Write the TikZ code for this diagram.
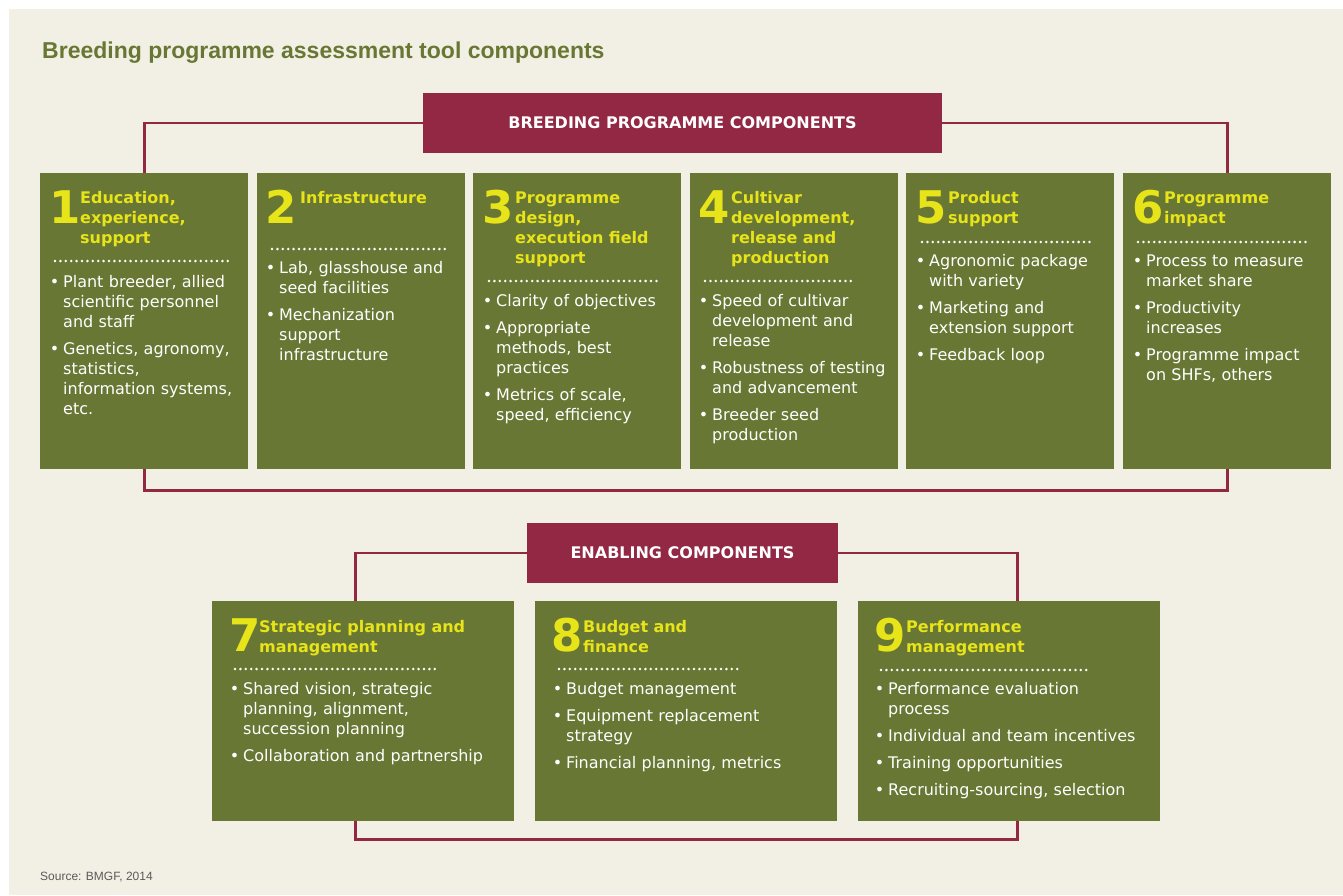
\documentclass[tikz,border=0pt]{standalone}
\usepackage{fontspec}
\setmainfont{DejaVu Sans}
\newfontfamily\titlefont{Liberation Sans}
\usetikzlibrary{calc,positioning}
\definecolor{bpbeige}{RGB}{242,239,228}
\definecolor{bpolive}{RGB}{104,119,51}
\definecolor{bpwine}{RGB}{146,40,68}
\definecolor{bpyellow}{RGB}{232,228,26}
\definecolor{bpgrey}{RGB}{90,90,90}
\newcommand{\bpt}{\leavevmode\llap{\textbullet\hspace{4pt}}}
\tikzset{
    link/.style={draw=bpwine, line width=2.8pt},
    comp/.style={fill=bpolive, anchor=north west, inner sep=0pt, minimum width=208pt, minimum height=296pt},
    enab/.style={comp, minimum width=302pt, minimum height=220pt},
    hdr/.style={fill=bpwine, text=white, minimum height=60pt, inner sep=0pt, font=\fontsize{16}{20}\selectfont\bfseries},
    num/.style={anchor=base west, inner sep=0pt, text=bpyellow, font=\fontsize{45}{45}\selectfont\bfseries},
    head/.style={anchor=base west, inner sep=0pt, text=bpyellow, align=left, text width=260pt, font=\fontsize{16}{20}\selectfont\bfseries},
    items/.style={anchor=base west, inner sep=0pt, text=white, align=left, text width=280pt, font=\fontsize{16}{20}\selectfont},
    dots/.style={white, line width=2.8pt, line cap=round, dash pattern=on 0pt off 5.4pt}
}
\begin{document}
\begin{tikzpicture}[x=1pt, y=-1pt]
    \useasboundingbox (0,0) rectangle (1343,895);
    \fill[bpbeige] (9,9) rectangle (1343,895);

    % Title and source
    \node[anchor=base west, inner sep=0pt, text=bpolive, font=\titlefont\fontsize{23}{23}\selectfont\bfseries] (title) at (42,58) {Breeding programme assessment tool components};
    \node[anchor=base west, inner sep=0pt, text=bpgrey, font=\titlefont\fontsize{12}{12}\selectfont] (src) at (40,880) {Source: BMGF, 2014};

    % Headers
    \node[hdr, minimum width=519pt] (bpc) at (682.5,123) {BREEDING PROGRAMME COMPONENTS};
    \node[hdr, minimum width=311pt] (ec) at (682.5,553) {ENABLING COMPONENTS};

    % Breeding programme components
    \node[comp] (b1) at (40,173) {};
    \node[comp] (b2) at (257,173) {};
    \node[comp] (b3) at (473,173) {};
    \node[comp] (b4) at (690,173) {};
    \node[comp] (b5) at (906,173) {};
    \node[comp] (b6) at (1123,173) {};

    % Enabling components
    \node[enab] (b7) at (212,601) {};
    \node[enab] (b8) at (535,601) {};
    \node[enab] (b9) at (858,601) {};

    % Links
    \draw[link] (b1.north) |- (bpc.west);
    \draw[link] (bpc.east) -| (b6.north);
    \draw[link] (b1.south) -- ++(0,21) -| (b6.south);
    \draw[link] ($(b7.north)+(-8,0)$) |- (ec.west);
    \draw[link] (ec.east) -| ($(b9.north)+(8,0)$);
    \draw[link] ($(b7.south)+(-8,0)$) -- ++(0,18) -| ($(b9.south)+(8,0)$);

    % 1
    \node[num] (n1) at (49,223) {1};
    \node[head] (h1) at (80,203) {Education,\\ experience,\\ support};
    \draw[dots] (55,261) -- (228,261);
    \node[items] (i1) at (63,287) {\bpt Plant breeder, allied\\ scientific personnel\\ and staff\\[7pt]
        \bpt Genetics, agronomy,\\ statistics,\\ information systems,\\ etc.};

    % 2
    \node[num] (n2) at (265,223) {2};
    \node[head] (h2) at (300,203) {Infrastructure};
    \draw[dots] (272,249) -- (448,249);
    \node[items] (i2) at (279,273) {\bpt Lab, glasshouse and\\ seed facilities\\[7pt]
        \bpt Mechanization\\ support\\ infrastructure};

    % 3
    \node[num] (n3) at (482,223) {3};
    \node[head] (h3) at (515,203) {Programme\\ design,\\ execution field\\ support};
    \draw[dots] (489,281) -- (658,281);
    \node[items] (i3) at (496,306) {\bpt Clarity of objectives\\[7pt]
        \bpt Appropriate\\ methods, best\\ practices\\[7pt]
        \bpt Metrics of scale,\\ speed, efficiency};

    % 4
    \node[num] (n4) at (698,223) {4};
    \node[head] (h4) at (731,203) {Cultivar\\ development,\\ release and\\ production};
    \draw[dots] (705,281) -- (852,281);
    \node[items] (i4) at (712,306) {\bpt Speed of cultivar\\ development and\\ release\\[7pt]
        \bpt Robustness of testing\\ and advancement\\[7pt]
        \bpt Breeder seed\\ production};

    % 5
    \node[num] (n5) at (915,223) {5};
    \node[head] (h5) at (948,203) {Product\\ support};
    \draw[dots] (922,242) -- (1093,242);
    \node[items] (i5) at (929,266) {\bpt Agronomic package\\ with variety\\[7pt]
        \bpt Marketing and\\ extension support\\[7pt]
        \bpt Feedback loop};

    % 6
    \node[num] (n6) at (1132,223) {6};
    \node[head] (h6) at (1164,203) {Programme\\ impact};
    \draw[dots] (1138,242) -- (1309,242);
    \node[items] (i6) at (1146,266) {\bpt Process to measure\\ market share\\[7pt]
        \bpt Productivity\\ increases\\[7pt]
        \bpt Programme impact\\ on SHFs, others};

    % 7
    \node[num] (n7) at (229,651) {7};
    \node[head] (h7) at (259,632) {Strategic planning and\\ management};
    \draw[dots] (235,669) -- (435,669);
    \node[items] (i7) at (243,694) {\bpt Shared vision, strategic\\ planning, alignment,\\ succession planning\\[7pt]
        \bpt Collaboration and partnership};

    % 8
    \node[num] (n8) at (551,651) {8};
    \node[head] (h8) at (583,632) {Budget and\\ finance};
    \draw[dots] (559,669) -- (741,669);
    \node[items] (i8) at (566,694) {\bpt Budget management\\[7pt]
        \bpt Equipment replacement\\ strategy\\[7pt]
        \bpt Financial planning, metrics};

    % 9
    \node[num] (n9) at (874,651) {9};
    \node[head] (h9) at (906,632) {Performance\\ management};
    \draw[dots] (881,670) -- (1087,670);
    \node[items] (i9) at (888,694) {\bpt Performance evaluation\\ process\\[7pt]
        \bpt Individual and team incentives\\[7pt]
        \bpt Training opportunities\\[7pt]
        \bpt Recruiting-sourcing, selection};

\end{tikzpicture}
\end{document}
